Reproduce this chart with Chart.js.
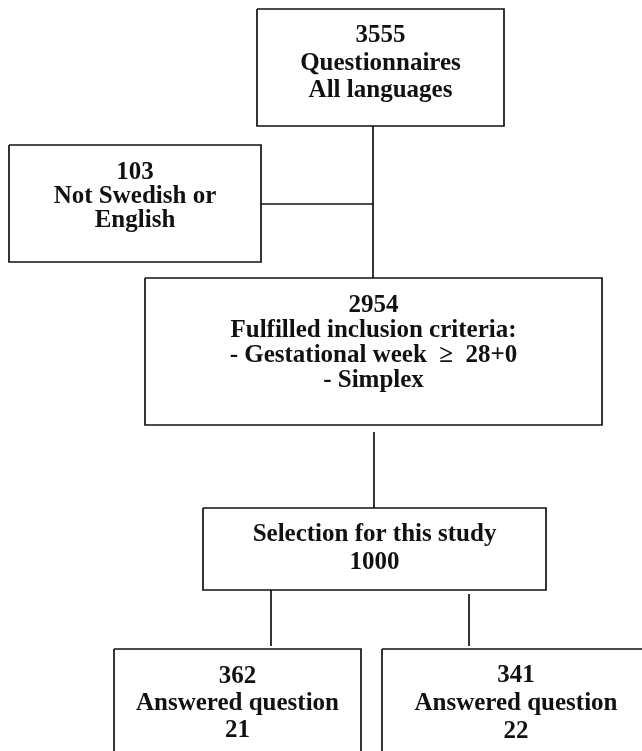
<!DOCTYPE html>
<html>
<head>
<meta charset="utf-8">
<script src="https://cdn.jsdelivr.net/npm/chart.js@4"></script>
<style>
    html, body { margin: 0; padding: 0; background: #fff; }
    #flow { display: block; }
</style>
</head>
<body>
<canvas id="flow" width="642" height="751"></canvas>
<script>
// Counts and captions of the flow boxes
const counts = [3555, 103, 2954, 1000, 362, 341];
const captions = [
    ['Questionnaires', 'All languages'],
    ['Not Swedish or', 'English'],
    ['Fulfilled inclusion criteria:', '- Gestational week  \u2265  28+0', '- Simplex'],
    ['Selection for this study'],
    ['Answered question', '21'],
    ['Answered question', '22']
];
// box 4 shows its count under the caption
const countLast = [false, false, false, true, false, false];

// Layout (page units): box edges [left, top, right, bottom]
const boxEdges = [
    [257, 9, 504, 126],
    [9, 145, 261, 262],
    [145, 278, 602, 425],
    [203, 508, 546, 590],
    [114, 649, 361, 760],
    [382, 649, 650, 760]
];
// first baseline and line step of the text in each box
const textRows = [
    [42, 27.5],
    [179, 24],
    [312, 25],
    [541, 28],
    [683, 27],
    [682, 28]
];
// connectors [x1, y1, x2, y2]
const links = [
    [373, 126, 373, 278],
    [261, 204, 373, 204],
    [374, 432, 374, 508],
    [271, 590, 271, 646],
    [469, 594, 469, 646]
];

function boxPoints(b) {
    return [
        { x: b[0], y: b[1] }, { x: b[2], y: b[1] },
        { x: b[2], y: b[3] }, { x: b[0], y: b[3] },
        { x: b[0], y: b[1] }
    ];
}

const datasets = [];
boxEdges.forEach(b => {
    datasets.push({ data: boxPoints(b), showLine: true, borderColor: '#111', borderWidth: 1.7, pointRadius: 0, fill: false });
});
links.forEach(l => {
    datasets.push({ data: [{ x: l[0], y: l[1] }, { x: l[2], y: l[3] }], showLine: true, borderColor: '#111', borderWidth: 1.7, pointRadius: 0, fill: false });
});

const boxText = {
    id: 'boxText',
    afterDatasetsDraw(chart) {
        const ctx = chart.ctx;
        const xs = chart.scales.x;
        const ys = chart.scales.y;
        ctx.save();
        ctx.fillStyle = '#111';
        ctx.textAlign = 'center';
        ctx.textBaseline = 'alphabetic';
        ctx.font = 'bold 25px "Liberation Serif", "Times New Roman", serif';
        boxEdges.forEach((b, i) => {
            const lines = countLast[i] ? [...captions[i], String(counts[i])] : [String(counts[i]), ...captions[i]];
            const cx = xs.getPixelForValue((b[0] + b[2]) / 2);
            lines.forEach((t, k) => {
                const y = ys.getPixelForValue(textRows[i][0] + k * textRows[i][1]);
                ctx.fillText(t, cx, y);
            });
        });
        ctx.restore();
    }
};

new Chart(document.getElementById('flow'), {
    type: 'scatter',
    data: { datasets: datasets },
    options: {
        responsive: false,
        animation: false,
        events: [],
        layout: { padding: 0 },
        plugins: { legend: { display: false }, tooltip: { enabled: false } },
        scales: {
            x: { type: 'linear', min: 0, max: 642, display: false },
            y: { type: 'linear', min: 0, max: 751, reverse: true, display: false }
        }
    },
    plugins: [boxText]
});
</script>
</body>
</html>
